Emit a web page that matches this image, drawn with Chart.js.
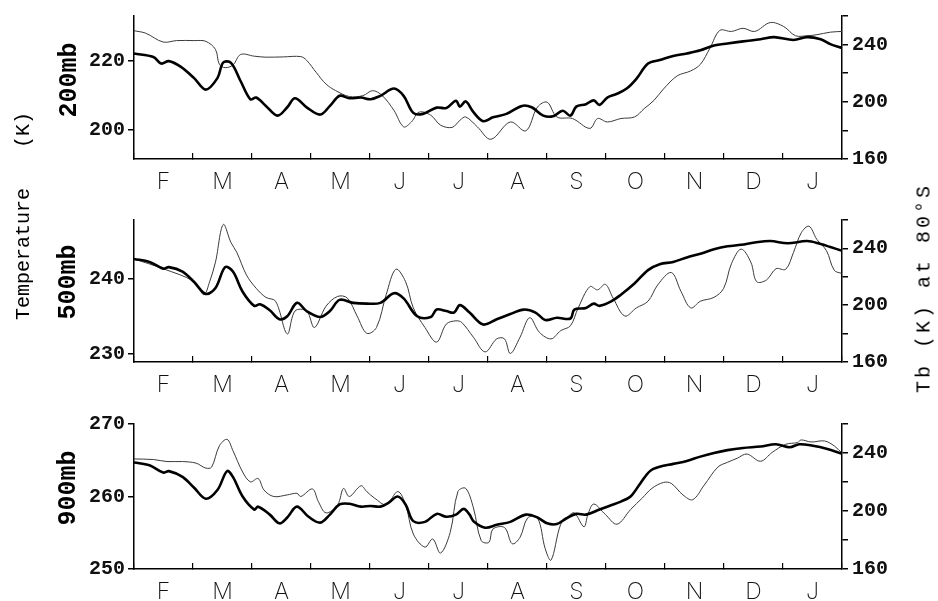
<!DOCTYPE html>
<html>
<head>
<meta charset="utf-8">
<script src="https://cdn.jsdelivr.net/npm/chart.js@4.4.0/dist/chart.umd.min.js"></script>
<style>
  body { margin: 0; background: #fff; width: 938px; height: 601px; overflow: hidden; position: relative; }
  .panel { position: absolute; left: 0; }
  .lbl { position: absolute; transform: translate(-50%, -50%) rotate(-90deg); white-space: nowrap;
         font-family: "Liberation Mono", "DejaVu Sans Mono", monospace; color: #000; }
</style>
</head>
<body>
<div class="panel" style="top:0"><canvas id="c200" width="938" height="200"></canvas></div>
<div class="panel" style="top:204px"><canvas id="c500" width="938" height="200"></canvas></div>
<div class="panel" style="top:408px"><canvas id="c900" width="938" height="193"></canvas></div>

<div class="lbl" style="left:23px;top:130px;font-size:20px">(K)</div>
<div class="lbl" style="left:23px;top:254px;font-size:20px">Temperature</div>
<div class="lbl" style="left:69px;top:80px;font-size:25px;font-weight:bold">200mb</div>
<div class="lbl" style="left:68px;top:282px;font-size:25px;font-weight:bold">500mb</div>
<div class="lbl" style="left:68px;top:488px;font-size:25px;font-weight:bold">900mb</div>
<div class="lbl" style="left:924px;top:288px;font-size:20px;letter-spacing:3px">Tb (K) at 80°S</div>

<script>
// x = days since 1 Feb, 12 months Feb..Jan
const months = ['F', 'M', 'A', 'M', 'J', 'J', 'A', 'S', 'O', 'N', 'D', 'J'];
const yearDays = 365;

const rightTicks = [160, 180, 200, 220, 240, 260];
const rightLabels = [160, 200, 240];

// [day, K] pairs. temp = thick line (left axis), tb = thin line (right axis)
const temp200 = [[0,222.1],[10,221.1],[14,219.2],[18,219.9],[24,218.3],[31,215],[37,211.7],[43,215],[46,219.5],[50,219.4],[55,214.1],[60,208.9],[63,209.4],[68,207],[74,204.2],[79,206.6],[83,209.2],[89,206.6],[96,204.5],[101,207],[106,209.9],[111,209.2],[117,209.4],[122,208.9],[127,209.9],[134,212],[139,209.9],[144,205],[149,204.7],[156,206.5],[161,206.4],[166,208.5],[168,206.8],[171,208.3],[175,205.2],[180,202.6],[185,203.7],[192,204.7],[200,207],[205,206.6],[211,204.2],[216,204],[221,205.6],[225,204.2],[228,206.8],[233,207.5],[237,208.6],[240,207.3],[244,209.4],[249,210.5],[254,212],[259,214.8],[265,219.2],[271,220.2],[278,221.4],[285,222.1],[292,223],[299,224.4],[306,225],[314,225.6],[323,226.2],[330,226.8],[340,226],[347,226.8],[354,226.2],[359,224.8],[365,223.7]];
const tb200 = [[0,249.7],[6,248],[15,241.8],[22,242.8],[31,242.8],[37,242.3],[42,236.6],[44,226.2],[47,223.9],[51,225.7],[55,233.1],[62,231.9],[68,231.2],[77,231.4],[86,231.6],[89,229],[94,220.4],[99,212.4],[104,207.8],[111,203.7],[118,204.3],[123,207.8],[128,204.3],[134,194],[139,182.5],[143,185.9],[147,192.8],[153,190.6],[158,183.7],[164,182.1],[168,187],[171,189.4],[177,182.5],[184,173.8],[194,185.9],[202,179.7],[208,196.3],[213,199.7],[218,189.4],[226,188.3],[235,181.4],[239,188.3],[244,185.9],[251,188.3],[258,189.4],[263,195.2],[268,200.9],[273,209],[280,218.1],[287,221.6],[292,226.2],[297,237.7],[302,249.9],[308,249.2],[314,251.4],[320,249.2],[328,255.4],[335,252.6],[341,246.2],[347,246.2],[352,246.9],[359,248.7],[365,249.2]];

const temp500 = [[0,242.7],[8,242.3],[15,241.4],[18,241.6],[25,241],[31,239.6],[37,238],[42,238.8],[47,241.6],[51,241],[56,238.3],[62,236.4],[65,236.6],[70,235.8],[75,234.6],[79,235],[84,236.8],[89,235.7],[96,234.9],[101,235.7],[106,237.2],[113,236.8],[120,236.7],[127,236.8],[134,238.1],[139,237.4],[146,235],[153,234.9],[156,235.9],[161,235.7],[165,235.5],[168,236.5],[173,235.5],[180,233.9],[187,234.6],[194,235.3],[201,235.9],[207,235.5],[212,234.5],[218,234.8],[225,234.7],[227,235.9],[233,236.1],[237,236.7],[240,236.4],[246,237],[251,237.9],[258,239.4],[265,241.2],[271,242],[278,242.3],[285,242.9],[292,243.4],[299,244],[306,244.4],[313,244.6],[320,244.9],[328,245.1],[337,244.8],[347,245.1],[354,244.7],[359,244.3],[365,243.8]];
const tb500 = [[0,232.6],[15,225.7],[31,216.6],[36,207.4],[39,216.6],[42,230.3],[46,256.8],[50,244.1],[53,237.2],[58,221.2],[63,211.9],[68,205.5],[73,202.8],[79,179.8],[83,195.9],[89,195.9],[93,184.3],[99,199.3],[105,206.2],[110,205],[115,192.4],[120,180.2],[125,184.3],[130,207.4],[135,225.3],[140,216.6],[144,198.1],[150,184.3],[156,174],[161,186.7],[166,189],[169,187.8],[175,177.4],[181,167.1],[187,176.3],[191,176.3],[194,166],[199,177.4],[204,191.2],[209,180.9],[215,176.3],[220,182.1],[225,185.5],[229,198.1],[235,213.1],[239,210.8],[243,214.7],[247,205],[253,192.4],[259,198.1],[265,202.8],[270,214.3],[277,223],[282,209.7],[287,198.1],[292,202.8],[299,205.5],[304,211.9],[308,229.2],[313,239.5],[318,230.3],[321,216.6],[326,217.7],[331,225.7],[336,225.3],[340,237.2],[344,251],[348,255.6],[352,246.4],[357,238.4],[361,224.6],[365,222.3]];

const temp900 = [[0,264.7],[8,264.3],[15,263.3],[18,263.5],[25,262.7],[31,261.2],[37,259.7],[43,260.9],[48,263.5],[51,262.7],[56,260],[62,258.2],[64,258.6],[70,257.5],[75,256.3],[79,257.1],[84,258.6],[90,257.2],[96,256.4],[101,257.5],[106,258.9],[111,259],[117,258.6],[122,258.7],[127,258.6],[131,259.1],[136,260],[140,258.9],[144,256.6],[150,256.5],[156,257.6],[161,257.2],[166,257.5],[170,258.3],[173,257.5],[175,256.6],[181,255.7],[187,256.1],[194,256.5],[202,257.5],[208,257.1],[213,256.3],[218,256.2],[223,257],[228,257.6],[233,257.5],[240,258.2],[245,258.7],[251,259.3],[256,260],[261,261.8],[266,263.5],[271,264.1],[278,264.5],[285,264.9],[292,265.5],[299,266],[306,266.4],[314,266.7],[323,266.9],[331,267.2],[338,266.8],[343,267.2],[350,267],[357,266.6],[365,265.9]];
const tb900 = [[0,235.9],[10,235.5],[17,234.1],[25,234.1],[32,233],[37,229.6],[40,230.3],[44,244.9],[48,249.4],[51,241.6],[56,226.9],[60,220.1],[64,222.4],[67,214.5],[72,210],[79,211.1],[84,212.2],[86,210],[92,215.2],[95,206.6],[99,198.7],[105,204.4],[108,215.6],[111,210],[117,217.4],[120,213.4],[124,208.9],[130,204.4],[136,213.4],[140,204.4],[144,184.1],[150,175.1],[154,180.7],[158,171],[163,185.2],[167,213.4],[171,215.6],[175,202.1],[179,179.6],[183,178.4],[185,187.5],[191,188.6],[195,177.4],[199,181.8],[203,195.3],[208,195.3],[212,174],[215,166.1],[220,190.9],[224,196.5],[227,198.7],[232,189.1],[234,197.6],[237,204.8],[243,197.6],[249,190.9],[256,201],[262,208.9],[267,215.6],[273,219.7],[277,219],[283,211.1],[288,207.8],[294,217.9],[301,230.3],[306,233.6],[311,236.4],[316,239.3],[323,234.3],[329,240.4],[336,246],[342,247.2],[344,249],[349,247.6],[356,248.3],[361,244.9],[365,239.9]];

const tickFont = { family: 'Liberation Mono', size: 20, weight: 'bold' };

function toPoints(pairs) {
  return pairs.map(p => ({ x: p[0], y: p[1] }));
}

function makePanel(id, temp, tb, leftMin, leftMax, leftTicks, padTop, plotBottom) {
  const canvas = document.getElementById(id);
  const h = canvas.height;
  new Chart(canvas, {
    type: 'line',
    data: {
      datasets: [
        { data: toPoints(temp), yAxisID: 'y', borderColor: '#000', borderWidth: 2.6,
          pointRadius: 0, tension: 0.35 },
        { data: toPoints(tb), yAxisID: 'y1', borderColor: '#3a3a3a', borderWidth: 1,
          pointRadius: 0, tension: 0.35 }
      ]
    },
    options: {
      responsive: false,
      animation: false,
      devicePixelRatio: 1,
      layout: { padding: { top: padTop, left: 0, right: 0, bottom: 0 } },
      plugins: { legend: { display: false }, tooltip: { enabled: false } },
      scales: {
        x: {
          type: 'linear', min: 0, max: yearDays,
          afterBuildTicks: s => {
            const t = [];
            for (let i = 0; i <= 12; i++) {
              t.push({ value: i * yearDays / 12 });
              if (i < 12) t.push({ value: (i + 0.5) * yearDays / 12 });
            }
            s.ticks = t;
          },
          afterFit: s => { s.height = h - plotBottom; },
          border: { display: true, color: '#000', width: 1.5 },
          grid: {
            drawOnChartArea: false, tickLength: -6, lineWidth: 1.2,
            color: c => (c.index % 2 === 1 ? 'rgba(0,0,0,0)' : '#000')
          },
          ticks: {
            autoSkip: false, maxRotation: 0, padding: 15, color: '#111',
            font: { family: 'Inter', size: 23, weight: 200 },
            callback: (v, i) => (i % 2 === 1 ? months[(i - 1) / 2] : '')
          }
        },
        y: {
          position: 'left', min: leftMin, max: leftMax,
          afterBuildTicks: s => { s.ticks = leftTicks.map(v => ({ value: v })); },
          afterFit: s => { s.width = 134; },
          border: { display: true, color: '#000', width: 1.5 },
          grid: { drawOnChartArea: false, tickLength: 6, color: '#000', lineWidth: 1.5 },
          ticks: { padding: 3, color: '#111', font: tickFont }
        },
        y1: {
          position: 'right', min: 160, max: 260,
          afterBuildTicks: s => { s.ticks = rightTicks.map(v => ({ value: v })); },
          afterFit: s => { s.width = 938 - 842; },
          border: { display: true, color: '#000', width: 1.5 },
          grid: { drawOnChartArea: false, tickLength: 6, color: '#000', lineWidth: 1.5 },
          ticks: {
            padding: 4, color: '#111', font: tickFont,
            callback: v => (rightLabels.includes(v) ? String(v) : '')
          }
        }
      }
    }
  });
}

makePanel('c200', temp200, tb200, 191.7, 232.9, [200, 220], 13, 159);
makePanel('c500', temp500, tb500, 228.86, 247.93, [230, 240], 13, 158);
makePanel('c900', temp900, tb900, 250, 270, [250, 260, 270], 13, 161);
</script>
</body>
</html>
